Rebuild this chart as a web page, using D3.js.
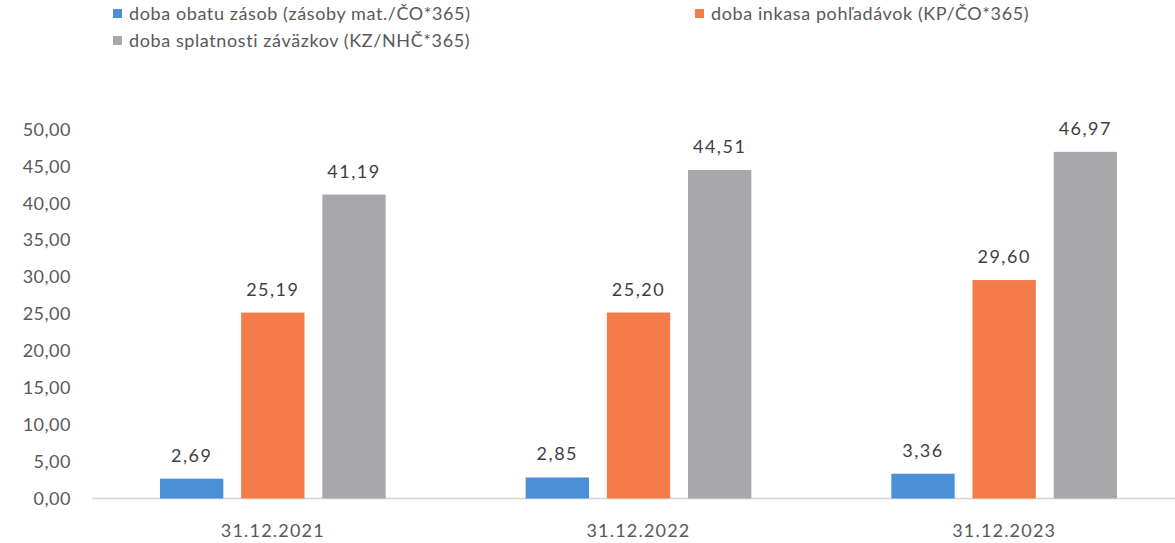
<!DOCTYPE html>
<html>
<head>
<meta charset="utf-8">
<script src="https://cdn.jsdelivr.net/npm/d3@7"></script>
<style>
	body { margin: 0; background: #fff; }
	text { font-family: Lato, "Open Sans", sans-serif; }
</style>
</head>
<body>
<script>
(function() {

	var categories = ['31.12.2021', '31.12.2022', '31.12.2023'];
	var seriesNames = [
		'doba obatu zásob (zásoby mat./ČO*365)',
		'doba inkasa pohľadávok (KP/ČO*365)',
		'doba splatnosti záväzkov (KZ/NHČ*365)'
	];
	var zasoby = [2.69, 2.85, 3.36];
	var pohladavky = [25.19, 25.20, 29.60];
	var zavazky = [41.19, 44.51, 46.97];
	var yTicks = [0, 5, 10, 15, 20, 25, 30, 35, 40, 45, 50];
	var colors = ['#4a8fd8', '#f47b4a', '#a8a8aa'];

	var width = 1175, height = 543;
	var series = [zasoby, pohladavky, zavazky];

	var svg = d3.select('body').append('svg')
		.attr('width', width)
		.attr('height', height);

	var y = d3.scaleLinear().domain([0, 50]).range([498.5, 129.5]);
	var x = d3.scaleBand().domain(categories).range([90, 1187]).paddingInner(0).paddingOuter(0);
	var inner = d3.scaleBand().domain([0, 1, 2]).range([70, x.bandwidth() - 70]).paddingInner(0.22).paddingOuter(0);

	var fmt = function(v) { return d3.format('.2f')(v).replace('.', ','); };

	// y axis labels
	var yAxis = d3.axisLeft(y).tickValues(yTicks).tickSize(0).tickPadding(0).tickFormat(fmt);
	var ya = svg.append('g').attr('transform', 'translate(71,0)').call(yAxis);
	ya.select('.domain').remove();
	ya.selectAll('text')
		.attr('fill', '#595959')
		.style('font-size', '18px')
		.style('letter-spacing', '0.5px')
		.style('font-family', 'Lato, sans-serif');

	// baseline
	svg.append('line')
		.attr('x1', 92).attr('x2', 1175)
		.attr('y1', y(0)).attr('y2', y(0))
		.attr('stroke', '#d4d4d4').attr('stroke-width', 1.5);

	// x axis labels
	var xAxis = d3.axisBottom(x).tickSize(0).tickPadding(0);
	var xa = svg.append('g').attr('transform', 'translate(0,' + (y(0) + 26) + ')').call(xAxis);
	xa.select('.domain').remove();
	xa.selectAll('text')
		.attr('fill', '#595959')
		.style('font-size', '18px')
		.style('letter-spacing', '1.2px')
		.style('font-family', 'Lato, sans-serif');

	// bars
	series.forEach(function(vals, si) {
		var g = svg.append('g');
		g.selectAll('rect')
			.data(vals)
			.enter()
			.append('rect')
			.attr('x', function(d, i) { return x(categories[i]) + inner(si); })
			.attr('y', function(d) { return y(d); })
			.attr('width', inner.bandwidth())
			.attr('height', function(d) { return y(0) - y(d); })
			.attr('fill', colors[si]);
		g.selectAll('text')
			.data(vals)
			.enter()
			.append('text')
			.attr('x', function(d, i) { return x(categories[i]) + inner(si) + inner.bandwidth() / 2; })
			.attr('y', function(d) { return y(d) - 17; })
			.attr('text-anchor', 'middle')
			.attr('fill', '#404040')
			.style('font-size', '18px')
			.style('letter-spacing', '1.5px')
			.text(fmt);
	});

	// legend
	var legendPos = [[113, 14], [695, 14], [113, 41]];
	var lg = svg.append('g');
	seriesNames.forEach(function(name, i) {
		var p = legendPos[i];
		lg.append('rect')
			.attr('x', p[0]).attr('y', p[1] - 5)
			.attr('width', 9).attr('height', 9)
			.attr('fill', colors[i]);
		lg.append('text')
			.attr('x', p[0] + 16).attr('y', p[1])
			.attr('dy', '0.35em')
			.attr('fill', '#595959')
			.style('font-size', '18px')
			.style('letter-spacing', '0.6px')
			.text(name);
	});

})();
</script>
</body>
</html>
